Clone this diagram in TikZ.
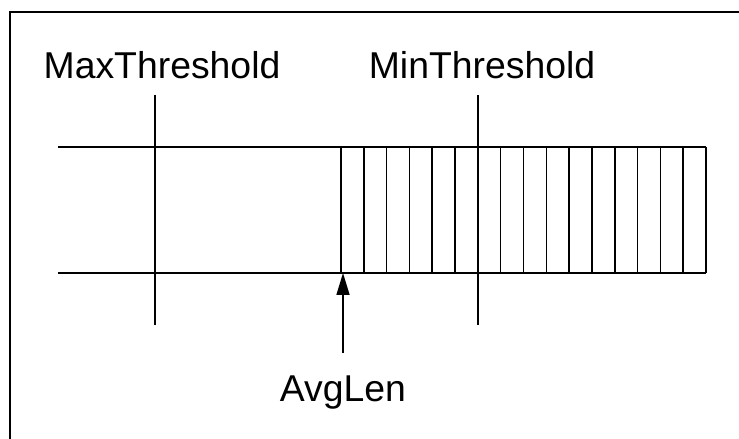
\documentclass[tikz,border=0pt]{standalone}
\usepackage{fontspec}
\setmainfont{Liberation Sans}
\usetikzlibrary{arrows.meta}
\begin{document}
\begin{tikzpicture}[x=1bp,y=-1bp,
  ln/.style={line width=1.6bp,black},
  lbl/.style={inner sep=0pt,anchor=base,font=\fontsize{37.5}{42}\selectfont}]
\useasboundingbox (0,0) rectangle (739,439);
% frame
\draw[ln] (10,439) -- (10,12) -- (739,12);
% queue
\coordinate (tl) at (58,147);
\coordinate (tr) at (706,147);
\coordinate (bl) at (58,273);
\coordinate (br) at (706,273);
\draw[ln] (tl) -- (tr);
\draw[ln] (bl) -- (br);
\foreach \i in {0,...,16}{
  \draw[ln] ({341+\i*22.8125},147) -- ({341+\i*22.8125},273);
}
% thresholds
\node[lbl] (maxt) at (162,79) {MaxThreshold};
\node[lbl] (mint) at (482,79) {MinThreshold};
\coordinate (maxtop) at (155,95);
\coordinate (maxbot) at (155,325);
\coordinate (mintop) at (478,95);
\coordinate (minbot) at (478,325);
\draw[ln] (maxtop) -- (maxbot);
\draw[ln] (mintop) -- (minbot);
% avglen
\node[lbl] (avg) at (343,401) {AvgLen};
\coordinate (avgtail) at (343,353);
\coordinate (avgtip) at (343,273);
\draw[ln,-{Triangle[length=22bp,width=13bp]}] (avgtail) -- (avgtip);
\end{tikzpicture}
\end{document}
